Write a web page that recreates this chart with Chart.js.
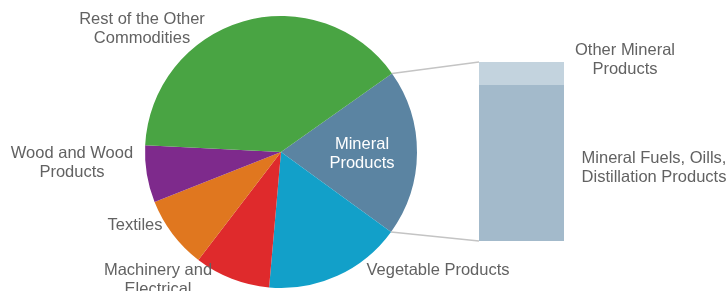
<!DOCTYPE html>
<html>
<head>
<meta charset="utf-8">
<script src="https://cdn.jsdelivr.net/npm/chart.js@4/dist/chart.umd.min.js"></script>
<style>
	body { margin: 0; background: #fff; }
	#wrap { position: relative; width: 727px; height: 291px; }
	canvas { position: absolute; left: 0; top: 0; }
</style>
</head>
<body>
<div id="wrap">
	<canvas id="pie" width="727" height="291"></canvas>
	<canvas id="bar" width="727" height="291"></canvas>
</div>
<script>
// pie slices, share of exports (%)
const pieLabels = ['Mineral Products', 'Vegetable Products', 'Machinery and Electrical', 'Textiles', 'Wood and Wood Products', 'Rest of the Other Commodities'];
const pieValues = [19.8, 16.4, 9.0, 8.6, 6.8, 39.4];
const pieColors = ['#5b84a2', '#12a0c9', '#df2a2c', '#e0771f', '#7e2a8c', '#49a443'];

// breakdown of Mineral Products (%), bottom to top
const barLabels = ['Mineral Fuels, Oills, Distillation Products', 'Other Mineral Products'];
const barValues = [87, 13];
const barColors = ['#a3bacb', '#c3d3de'];

// label placement (centre x, first line y), lines split by \n
const textSpots = [
	{ text: 'Rest of the Other\nCommodities', x: 142, y: 19 },
	{ text: 'Wood and Wood\nProducts', x: 72, y: 153 },
	{ text: 'Textiles', x: 135, y: 225 },
	{ text: 'Machinery and\nElectrical', x: 158, y: 270 },
	{ text: 'Vegetable Products', x: 438, y: 270 },
	{ text: 'Other Mineral\nProducts', x: 625, y: 50 },
	{ text: 'Mineral Fuels, Oills,\nDistillation Products', x: 654, y: 158 },
	{ text: 'Mineral\nProducts', x: 362, y: 144, color: '#ffffff' },
];

const FONT = '16.5px "Liberation Sans", Arial, sans-serif';
const LINE = 19;

const pieChart = new Chart(document.getElementById('pie').getContext('2d'), {
	type: 'pie',
	data: {
		labels: pieLabels,
		datasets: [{
			data: pieValues,
			backgroundColor: pieColors,
			borderWidth: 0,
		}],
	},
	options: {
		responsive: false,
		animation: false,
		rotation: 54.7,
		layout: { padding: { left: 145, right: 310, top: 16, bottom: 3 } },
		plugins: { legend: { display: false }, tooltip: { enabled: false } },
	},
});

// connectors from the mineral slice to the bar, plus all text
const overlay = {
	id: 'overlay',
	afterDraw(chart) {
		const ctx = chart.ctx;
		const arc = pieChart.getDatasetMeta(0).data[0];
		const bar = chart.getDatasetMeta(0).data[0];
		const barTop = chart.getDatasetMeta(1).data[0];
		const r = arc.outerRadius;
		const p1 = { x: arc.x + r * Math.cos(arc.startAngle), y: arc.y + r * Math.sin(arc.startAngle) };
		const p2 = { x: arc.x + r * Math.cos(arc.endAngle), y: arc.y + r * Math.sin(arc.endAngle) };
		const left = bar.x - bar.width / 2;

		ctx.save();
		ctx.strokeStyle = '#c4c4c4';
		ctx.lineWidth = 1.5;
		ctx.beginPath();
		ctx.moveTo(p1.x, p1.y);
		ctx.lineTo(left, barTop.y);
		ctx.moveTo(p2.x, p2.y);
		ctx.lineTo(left, bar.base);
		ctx.stroke();

		ctx.font = FONT;
		ctx.textAlign = 'center';
		ctx.textBaseline = 'middle';
		textSpots.forEach(t => {
			ctx.fillStyle = t.color || '#626262';
			t.text.split('\n').forEach((line, i) => ctx.fillText(line, t.x, t.y + i * LINE));
		});
		ctx.restore();
	},
};

new Chart(document.getElementById('bar').getContext('2d'), {
	type: 'bar',
	data: {
		labels: ['Mineral Products'],
		datasets: barLabels.map((name, i) => ({
			label: name,
			data: [barValues[i]],
			backgroundColor: barColors[i],
			borderWidth: 0,
			barPercentage: 1,
			categoryPercentage: 1,
		})),
	},
	options: {
		responsive: false,
		animation: false,
		layout: { padding: { left: 479, right: 163, top: 62, bottom: 50 } },
		scales: {
			x: { display: false, stacked: true },
			y: { display: false, stacked: true, min: 0, max: 100 },
		},
		plugins: { legend: { display: false }, tooltip: { enabled: false } },
	},
	plugins: [overlay],
});
</script>
</body>
</html>
